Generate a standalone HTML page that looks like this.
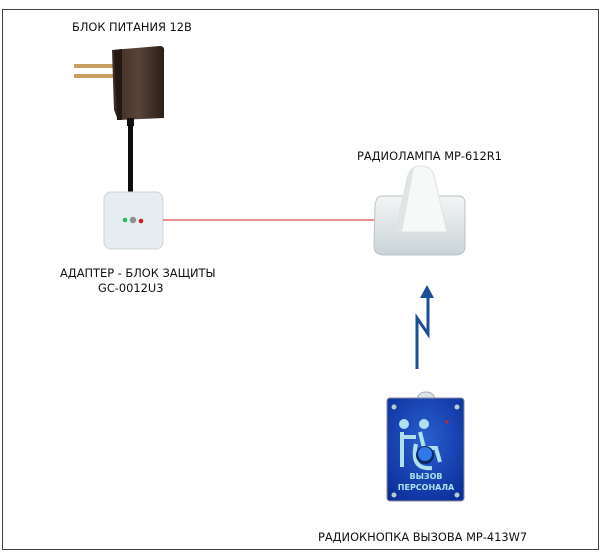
<!DOCTYPE html>
<html><head><meta charset="utf-8"><style>
html,body{margin:0;padding:0;background:#fff;width:600px;height:552px;overflow:hidden}
text{font-family:"DejaVu Sans","Liberation Sans",sans-serif;font-size:11.4px;fill:#111}
</style></head><body>
<svg width="600" height="552" viewBox="0 0 600 552" xmlns="http://www.w3.org/2000/svg">
<defs>
<linearGradient id="br" x1="0" x2="1"><stop offset="0" stop-color="#3a2a22"/><stop offset=".5" stop-color="#5a4438"/><stop offset="1" stop-color="#2a1e18"/></linearGradient>
<linearGradient id="lamp" x1="0" x2="0" y1="0" y2="1"><stop offset="0" stop-color="#f4f6f6"/><stop offset="1" stop-color="#c9d3d6"/></linearGradient>
<radialGradient id="bb" cx=".5" cy=".4" r=".7"><stop offset="0" stop-color="#2a5fd0"/><stop offset="1" stop-color="#0b2f9a"/></radialGradient>
</defs>
<rect x="2.5" y="9.5" width="596" height="540" fill="none" stroke="#444" stroke-width="1"/>
<text x="72" y="31">БЛОК ПИТАНИЯ 12В</text>
<!-- charger -->
<rect x="74" y="64" width="40" height="4" fill="#c8a060"/>
<rect x="74" y="74" width="40" height="4" fill="#c8a060"/>
<path d="M112 50 L160 46 Q165 46 164 52 L164 118 L118 120 L114 110 Z" fill="url(#br)"/>
<path d="M114 50 L122 49 L122 120 L117 120 Z" fill="#231812"/>
<rect x="127" y="118" width="7" height="8" fill="#111"/>
<rect x="128" y="124" width="5" height="70" fill="#0c0c0c"/>
<!-- adapter -->
<rect x="104" y="192" width="59" height="57" rx="7" fill="#e6ecef" stroke="#ccd4d8"/>
<circle cx="125" cy="220" r="2.3" fill="#20c060"/>
<circle cx="133" cy="220" r="3.2" fill="#8a9094"/>
<circle cx="141" cy="221" r="2.3" fill="#d02020"/>
<line x1="163" y1="220" x2="378" y2="220" stroke="#d81818" stroke-width="1"/>
<text x="60" y="277">АДАПТЕР - БЛОК ЗАЩИТЫ</text>
<text x="98" y="292">GC-0012U3</text>
<!-- lamp -->
<text x="357" y="160">РАДИОЛАМПА МР-612R1</text>
<path d="M382 196 L458 196 Q466 196 465 206 L465 246 Q465 255 455 255 L384 255 Q374 255 374 246 L375 206 Q376 196 382 196 Z" fill="url(#lamp)" stroke="#b8c3c7"/>
<path d="M395 232 L408 175 Q411 166 421 166 Q431 166 434 175 L447 232 Z" fill="#f7f8f8" stroke="#dde2e4"/>
<path d="M395 232 L408 175 Q410 169 414 168 L402 232 Z" fill="#dfe4e6"/>
<!-- arrow -->
<polyline points="417,369 417,318 428,334 428,296" fill="none" stroke="#1a4f96" stroke-width="3"/>
<polygon points="427,285 420,298 434,298" fill="#1a4f96"/>
<!-- button -->
<path d="M417 400 Q418 392 426 392 Q434 392 435 400 Z" fill="#d8e4e8" stroke="#aab"/>
<rect x="387" y="398" width="77" height="103" rx="3" fill="url(#bb)" stroke="#889"/>
<circle cx="394" cy="407" r="2.5" fill="#bcc"/><circle cx="457" cy="407" r="2.5" fill="#bcc"/>
<circle cx="394" cy="495" r="2.5" fill="#bcc"/><circle cx="457" cy="495" r="2.5" fill="#bcc"/>
<circle cx="447" cy="422" r="1.5" fill="#e02020"/>
<circle cx="404" cy="424" r="5" fill="#aee0f0"/><circle cx="424" cy="424" r="5" fill="#aee0f0"/>
<path d="M402 432 L402 467 M402 437 L416 437 M420 432 L424 448 L436 448 L440 462 M416 444 Q410 470 432 468" fill="none" stroke="#aee0f0" stroke-width="4"/>
<circle cx="425" cy="455" r="9" fill="#0a2a60"/><circle cx="425" cy="454" r="7" fill="#2e78e8"/>
<text x="426" y="479" text-anchor="middle" style="font-size:8px;fill:#aee0f0;font-weight:bold">ВЫЗОВ</text>
<text x="426" y="490" text-anchor="middle" style="font-size:8px;fill:#aee0f0;font-weight:bold">ПЕРСОНАЛА</text>
<text x="318" y="541">РАДИОКНОПКА ВЫЗОВА МР-413W7</text>
</svg>
</body></html>
